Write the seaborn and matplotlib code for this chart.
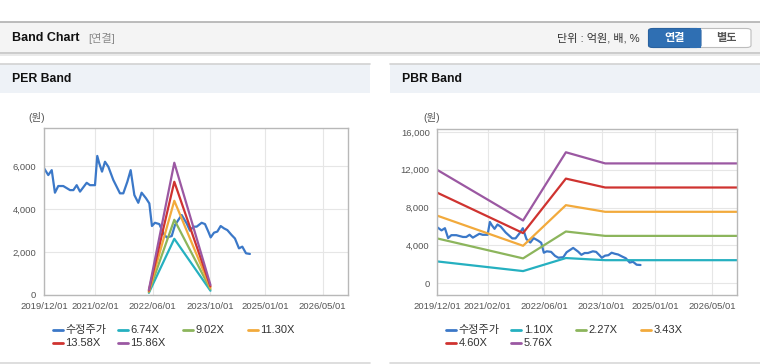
import matplotlib
matplotlib.use('Agg')
import matplotlib.pyplot as plt
import seaborn as sns
import pandas as pd
from matplotlib.patches import Rectangle, FancyBboxPatch
from matplotlib.lines import Line2D

# ---------------- data ----------------
price_dates = ['2019-12-01', '2020-01-06', '2020-02-04', '2020-03-02', '2020-03-30', '2020-05-11',
               '2020-07-07', '2020-08-04', '2020-09-01', '2020-09-29', '2020-11-24', '2020-12-22',
               '2021-02-02', '2021-02-21', '2021-03-10', '2021-04-02', '2021-04-27', '2021-05-25',
               '2021-07-06', '2021-08-31', '2021-09-28', '2021-11-01', '2021-11-29', '2021-12-30',
               '2022-02-01', '2022-03-01', '2022-04-07', '2022-05-05', '2022-05-27', '2022-06-21',
               '2022-07-28', '2022-08-31', '2022-09-28', '2022-11-09', '2022-12-07', '2023-01-04',
               '2023-02-01', '2023-03-15', '2023-04-12', '2023-05-10', '2023-06-07', '2023-07-19',
               '2023-08-16', '2023-09-13', '2023-10-03', '2023-10-31', '2023-11-28', '2023-12-26',
               '2024-01-23', '2024-02-20', '2024-03-27', '2024-04-24', '2024-05-28', '2024-06-25',
               '2024-07-26', '2024-08-28']
price_values = [5900, 5580, 5810, 4760, 5070, 5070,
                4880, 4880, 5110, 4810, 5220, 5110,
                5110, 6470, 6120, 5740, 6200, 5970,
                5350, 4730, 4730, 5270, 5810, 4650,
                4290, 4760, 4500, 4260, 3210, 3360,
                3300, 2870, 2680, 2740, 3260, 3490,
                3720, 3330, 2990, 3180, 3180, 3360,
                3300, 2950, 2680, 2900, 2950, 3210,
                3100, 3020, 2790, 2630, 2170, 2250,
                1940, 1910]

per_labels = ['6.74X', '9.02X', '11.30X', '13.58X', '15.86X']
per_dates = ['2022-05-01', '2022-12-01', '2023-10-01']
per_674 = [101, 2615, 199]
per_902 = [135, 3500, 266]
per_1130 = [170, 4384, 333]
per_1358 = [204, 5269, 401]
per_1586 = [238, 6154, 468]

pbr_labels = ['1.10X', '2.27X', '3.43X', '4.60X', '5.76X']
pbr_dates = ['2019-12-01', '2021-12-01', '2022-12-01', '2023-11-01', '2026-12-01']
pbr_110 = [2288, 1265, 2646, 2420, 2420]
pbr_227 = [4722, 2611, 5459, 4994, 4994]
pbr_343 = [7134, 3945, 8249, 7546, 7546]
pbr_460 = [9568, 5290, 11063, 10120, 10120]
pbr_576 = [11981, 6624, 13853, 12672, 12672]

price_label = '수정주가'
x_tick_dates = ['2019-12-01', '2021-02-01', '2022-06-01', '2023-10-01', '2025-01-01', '2026-05-01']
x_tick_labels = ['2019/12/01', '2021/02/01', '2022/06/01', '2023/10/01', '2025/01/01', '2026/05/01']
per_yticks = [0, 2000, 4000, 6000]
pbr_yticks = [0, 4000, 8000, 12000, 16000]

colors = ['#3b78c8', '#25b0c0', '#8cb55c', '#f2aa3c', '#cf3330', '#9b58a2']

# ---------------- style ----------------
sns.set_style('white')
plt.rcParams['font.family'] = ['Liberation Sans', 'Noto Sans CJK KR', 'DejaVu Sans']
plt.rcParams['axes.unicode_minus'] = False

W, H = 760, 364
fig = plt.figure(figsize=(W / 100, H / 100), dpi=100)


def fx(px):
    return px / W


def fy(py):
    return 1 - py / H


def build_df(series_dates, names, values_lists):
    rows = []
    for name, d, vals in zip(names, series_dates, values_lists):
        for di, v in zip(d, vals):
            rows.append({'date': pd.Timestamp(di), 'value': v, 'series': name})
    return pd.DataFrame(rows)


per_df = build_df([price_dates] + [per_dates] * 5,
                  [price_label] + per_labels,
                  [price_values, per_674, per_902, per_1130, per_1358, per_1586])
pbr_df = build_df([price_dates] + [pbr_dates] * 5,
                  [price_label] + pbr_labels,
                  [price_values, pbr_110, pbr_227, pbr_343, pbr_460, pbr_576])

# ---------------- page decorations ----------------
# top header band
fig.patches.append(Rectangle((0, fy(53)), 1, fy(22) - fy(53), transform=fig.transFigure,
                             facecolor='#f4f4f4', edgecolor='none', zorder=0))
fig.add_artist(Line2D([0, 1], [fy(22.3)] * 2, color='#b0b0b0', lw=1.2, transform=fig.transFigure))
fig.add_artist(Line2D([0, 1], [fy(53)] * 2, color='#c4c4c4', lw=1.2, transform=fig.transFigure))
fig.add_artist(Line2D([0, 1], [fy(54.5)] * 2, color='#e6e6e6', lw=1.2, transform=fig.transFigure))
fig.text(fx(12), fy(38), 'Band Chart', fontsize=9, fontweight='bold', color='#111111', va='center')
fig.text(fx(88), fy(38), '[연결]', fontsize=8, color='#8a8a8a', va='center')
fig.text(fx(640), fy(38), '단위 : 억원, 배, %', fontsize=8, color='#333333', va='center', ha='right')

# button group
outer = FancyBboxPatch((fx(648.5), fy(47.5)), fx(751) - fx(648.5), fy(28.5) - fy(47.5),
                       boxstyle='round,pad=0,rounding_size=0.006', transform=fig.transFigure,
                       facecolor='white', edgecolor='#bdbdbd', lw=0.8, zorder=2)
fig.patches.append(outer)
blue = FancyBboxPatch((fx(648.5), fy(47.5)), fx(701) - fx(648.5), fy(28.5) - fy(47.5),
                      boxstyle='round,pad=0,rounding_size=0.006', transform=fig.transFigure,
                      facecolor='#2f6fb3', edgecolor='#2a62a0', lw=0.8, zorder=3)
fig.patches.append(blue)
fig.patches.append(Rectangle((fx(690), fy(47.5)), fx(701) - fx(690), fy(28.5) - fy(47.5),
                             transform=fig.transFigure, facecolor='#2f6fb3', edgecolor='none', zorder=3))
fig.text(fx(674.7), fy(38), '연결', fontsize=8, fontweight='bold', color='white',
         va='center', ha='center', zorder=5)
fig.text(fx(726), fy(38), '별도', fontsize=8, fontweight='bold', color='#555555',
         va='center', ha='center', zorder=5)

# panel headers and bottom lines
for x0, x1, title in [(0, 370, 'PER Band'), (390, 760, 'PBR Band')]:
    fig.patches.append(Rectangle((fx(x0), fy(92.5)), fx(x1) - fx(x0), fy(64) - fy(92.5),
                                 transform=fig.transFigure, facecolor='#eef2f7',
                                 edgecolor='none', zorder=0))
    fig.add_artist(Line2D([fx(x0), fx(x1)], [fy(64.2)] * 2, color='#d2d2d2', lw=1.2,
                          transform=fig.transFigure))
    fig.add_artist(Line2D([fx(x0), fx(x1)], [fy(362.8)] * 2, color='#d8d8d8', lw=1.2,
                          transform=fig.transFigure))
    fig.text(fx(x0 + 12), fy(79), title, fontsize=8.8, fontweight='bold', color='#111111', va='center')

# ---------------- charts ----------------
panels = [
    (per_df, [44, 128, 348, 295], per_labels, per_yticks, (0, 7770), 28),
    (pbr_df, [437.3, 128.7, 737.3, 295.3], pbr_labels, pbr_yticks, (-1300, 16350), 423),
]

for df, (l, t, r, b), band_labels, yticks, ylim, unit_x in panels:
    ax = fig.add_axes([fx(l), fy(b), fx(r) - fx(l), fy(t) - fy(b)])
    order = [price_label] + band_labels
    sns.lineplot(data=df, x='date', y='value', hue='series', hue_order=order,
                 palette=dict(zip(order, colors)), estimator=None, legend=False,
                 linewidth=1.6, ax=ax)
    ax.set_xlim(pd.Timestamp('2019-12-01'), pd.Timestamp('2026-12-01'))
    ax.set_ylim(*ylim)
    ax.set_xticks([pd.Timestamp(d) for d in x_tick_dates])
    ax.set_xticklabels(x_tick_labels)
    ax.set_yticks(yticks)
    ax.set_yticklabels([f'{v:,}' for v in yticks])
    ax.set_xlabel('')
    ax.set_ylabel('')
    ax.grid(True, color='#e6e6e6', lw=0.8)
    ax.set_axisbelow(True)
    for sp in ax.spines.values():
        sp.set_color('#b8b8b8')
        sp.set_linewidth(1.0)
    ax.tick_params(axis='both', length=3, width=0.8, color='#a0a0a0', labelsize=6.8,
                   labelcolor='#555555', pad=2)
    ax.tick_params(axis='y', pad=2.5)
    ax.set_facecolor('white')
    fig.text(fx(unit_x), fy(118), '(원)', fontsize=7.5, color='#555555', va='center')

    # legend (two rows, fixed-width columns)
    for i, (name, col) in enumerate(zip(order, colors)):
        row, c = divmod(i, 4)
        hx = l + 9 + 65 * c
        hy = 330 + 13 * row
        fig.add_artist(Line2D([fx(hx), fx(hx + 10)], [fy(hy)] * 2, color=col, lw=2.0,
                              transform=fig.transFigure))
        fig.text(fx(hx + 12.5), fy(hy), name, fontsize=8, color='#333333', va='center')

fig.savefig('out.png', dpi=100, facecolor='white')
